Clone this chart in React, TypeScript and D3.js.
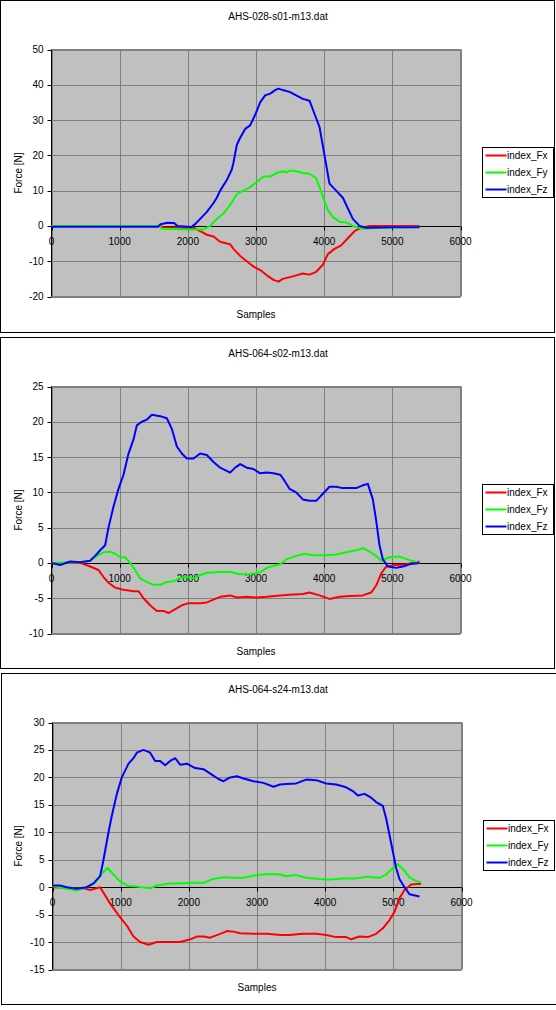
import { useRef, useEffect } from "react";
import * as d3 from "d3";

type Pt = [number, number];

const titles = ["AHS-028-s01-m13.dat", "AHS-064-s02-m13.dat", "AHS-064-s24-m13.dat"];
const seriesNames = ["index_Fx", "index_Fy", "index_Fz"];
const seriesColors = ["#ff0000", "#00ff00", "#0000ff"];
const xTicks = [0, 1000, 2000, 3000, 4000, 5000, 6000];
const yDomains: [number, number][] = [[-20, 50], [-10, 25], [-15, 30]];
const yTicks = [
  [-20, -10, 0, 10, 20, 30, 40, 50],
  [-10, -5, 0, 5, 10, 15, 20, 25],
  [-15, -10, -5, 0, 5, 10, 15, 20, 25, 30],
];

// AHS-028-s01
const s01Fx: Pt[] = [
  [0, 0], [1580, 0], [1650, -0.4], [1800, -0.5], [2100, -0.6], [2181, -1.5], [2279, -2.5],
  [2377, -3], [2474, -4.5], [2572, -5], [2620, -5.2], [2670, -6.5], [2768, -8.5], [2865, -10],
  [2963, -11.5], [3061, -12.5], [3159, -14], [3257, -15.3], [3330, -15.8], [3394, -15],
  [3541, -14.3], [3687, -13.5], [3785, -13.8], [3883, -13], [3981, -11], [4054, -8],
  [4152, -6.5], [4250, -5.5], [4347, -3.5], [4445, -1.5], [4543, -0.5], [4665, 0], [5400, 0],
];
const s01Fy: Pt[] = [
  [0, 0], [1580, 0], [1620, -0.8], [1800, -0.9], [2000, -1], [2230, -1], [2328, 0],
  [2425, 2], [2523, 3.5], [2621, 6], [2719, 9], [2816, 10], [2914, 11], [3012, 12.5],
  [3110, 14], [3208, 14], [3306, 15], [3394, 15.5], [3450, 15.2], [3492, 15.7], [3589, 15.5],
  [3687, 15], [3785, 14.8], [3883, 13.5], [3932, 11], [4005, 7], [4054, 4.5], [4127, 2.5],
  [4225, 1.2], [4323, 1], [4421, 0], [4567, -0.8], [4763, -0.6], [5252, -0.3], [5400, -0.3],
];
const s01Fz: Pt[] = [
  [0, -0.2], [1560, -0.2], [1600, 0.5], [1700, 0.9], [1800, 0.8], [1850, 0], [2050, -0.3],
  [2108, 0.5], [2181, 2], [2279, 4], [2377, 6.5], [2425, 8], [2474, 10], [2572, 13],
  [2645, 16], [2670, 18], [2719, 23], [2768, 25], [2841, 27.5], [2914, 28.5], [2988, 31.5],
  [3061, 35], [3134, 37], [3208, 37.5], [3281, 38.5], [3330, 38.9], [3394, 38.5],
  [3492, 38], [3589, 37], [3687, 36], [3785, 35.5], [3834, 33], [3932, 28], [4005, 20],
  [4078, 12], [4176, 10], [4274, 8], [4347, 5], [4421, 2], [4518, 0], [4616, -0.5],
  [5000, -0.4], [5400, -0.4],
];

// AHS-064-s02
const s02Fx: Pt[] = [
  [0, 0], [421, 0], [567, -0.5], [690, -1], [763, -2], [836, -2.8], [934, -3.5],
  [1056, -3.8], [1203, -4], [1276, -4], [1350, -5], [1447, -6], [1545, -6.8], [1643, -6.8],
  [1716, -7.1], [1790, -6.7], [1912, -6], [2010, -5.7], [2181, -5.7], [2279, -5.6],
  [2377, -5.2], [2474, -4.8], [2621, -4.6], [2719, -4.9], [2865, -4.8], [3012, -4.9],
  [3159, -4.8], [3355, -4.6], [3492, -4.5], [3687, -4.4], [3785, -4.2], [3932, -4.6],
  [4078, -5.1], [4225, -4.8], [4372, -4.7], [4567, -4.6], [4689, -4.2], [4763, -3.2],
  [4836, -1.5], [4910, -0.5], [5056, -0.3], [5203, -0.2], [5399, 0.2],
];
const s02Fy: Pt[] = [
  [0, 0], [421, 0.1], [567, 0.3], [665, 1], [763, 1.5], [860, 1.6], [934, 1.3], [1007, 0.8],
  [1081, 0.8], [1154, 0], [1227, -1], [1301, -2.2], [1398, -2.7], [1496, -3.1], [1594, -3.1],
  [1692, -2.7], [1790, -2.6], [1888, -2.1], [1985, -2], [2083, -2.2], [2181, -1.7],
  [2279, -1.4], [2474, -1.3], [2621, -1.3], [2768, -1.6], [2914, -1.6], [3061, -1.3],
  [3159, -0.7], [3257, -0.4], [3355, -0.2], [3443, 0.5], [3589, 1], [3712, 1.3], [3834, 1.1],
  [4029, 1.1], [4176, 1.2], [4323, 1.5], [4470, 1.8], [4567, 2.1], [4665, 1.6], [4763, 1],
  [4836, 0.3], [4959, 0.8], [5105, 0.9], [5252, 0.4], [5399, 0],
];
const s02Fz: Pt[] = [
  [0, 0], [127, -0.3], [274, 0.2], [421, 0.1], [567, 0.3], [640, 1], [714, 1.8], [787, 2.5],
  [836, 5], [910, 8], [983, 10.5], [1056, 12.5], [1130, 15.5], [1203, 17.5], [1252, 19.5],
  [1325, 20], [1398, 20.3], [1472, 21], [1594, 20.8], [1692, 20.5], [1765, 19], [1839, 16.5],
  [1912, 15.5], [1985, 14.8], [2083, 14.8], [2181, 15.5], [2279, 15.3], [2377, 14.3],
  [2474, 13.5], [2621, 12.8], [2694, 13.5], [2768, 14], [2865, 13.5], [2963, 13.3],
  [3061, 12.7], [3159, 12.8], [3257, 12.7], [3355, 12.5], [3394, 12], [3492, 10.5],
  [3589, 10], [3687, 9], [3785, 8.8], [3883, 8.8], [3981, 9.8], [4078, 10.8], [4176, 10.8],
  [4274, 10.6], [4372, 10.6], [4470, 10.6], [4567, 11], [4641, 11.2], [4714, 9], [4763, 6],
  [4812, 2.5], [4861, 0.5], [4934, -0.5], [5056, -0.7], [5154, -0.5], [5252, -0.2], [5399, 0],
];

// AHS-064-s24
const s24Fx: Pt[] = [
  [0, 0], [357, -0.2], [455, -0.2], [553, -0.5], [699, 0], [748, -1], [846, -3], [993, -5.5],
  [1090, -7], [1188, -9], [1286, -10], [1408, -10.5], [1531, -10], [1677, -10], [1873, -10],
  [2020, -9.5], [2117, -9], [2215, -9], [2313, -9.2], [2460, -8.5], [2558, -8], [2655, -8.1],
  [2753, -8.4], [2949, -8.5], [3144, -8.5], [3340, -8.7], [3477, -8.7], [3672, -8.5],
  [3868, -8.5], [4015, -8.7], [4161, -9.1], [4308, -9.1], [4381, -9.5], [4504, -9],
  [4626, -9.1], [4748, -8.5], [4846, -7.5], [4944, -6], [5017, -4.5], [5090, -2],
  [5164, -0.5], [5261, 0.5], [5408, 0.6],
];
const s24Fy: Pt[] = [
  [0, 0.2], [210, -0.3], [357, -0.6], [504, 0], [626, 0.8], [724, 2.5], [807, 3.5], [895, 2.3],
  [993, 1], [1115, 0.2], [1237, 0.1], [1433, -0.2], [1531, 0.3], [1677, 0.6], [1873, 0.7],
  [2068, 0.8], [2215, 0.8], [2362, 1.5], [2509, 1.8], [2655, 1.7], [2802, 1.7], [2998, 2.2],
  [3193, 2.4], [3340, 2.3], [3428, 2], [3574, 2.2], [3721, 1.7], [3917, 1.5], [4064, 1.4],
  [4259, 1.6], [4455, 1.6], [4601, 1.9], [4797, 1.7], [4895, 2.3], [4993, 3.5], [5066, 4.2],
  [5164, 3], [5237, 1.8], [5335, 1.1], [5408, 0.9],
];
const s24Fz: Pt[] = [
  [0, 0.3], [112, 0.3], [210, 0], [357, -0.3], [504, 0], [601, 0.7], [699, 2], [748, 5],
  [822, 10], [870, 13], [944, 17], [1017, 20], [1115, 22.5], [1188, 23.5], [1237, 24.5],
  [1335, 25], [1433, 24.5], [1506, 23], [1579, 23], [1653, 22.2], [1726, 23], [1800, 23.5],
  [1873, 22.3], [1971, 22.5], [2093, 21.7], [2215, 21.5], [2337, 20.5], [2435, 19.7],
  [2509, 19.3], [2606, 20], [2704, 20.2], [2802, 19.8], [2949, 19.3], [3095, 19],
  [3242, 18.3], [3340, 18.7], [3428, 18.8], [3574, 18.9], [3721, 19.6], [3868, 19.5],
  [4015, 18.9], [4161, 18.7], [4308, 18.2], [4406, 17.5], [4479, 16.7], [4577, 17],
  [4675, 16.3], [4748, 15.5], [4846, 14.8], [4895, 12.5], [4944, 9.5], [4993, 6.5],
  [5041, 3.5], [5090, 1.5], [5164, 0], [5237, -1.3], [5384, -1.7],
];

const panelSeries = [
  [s01Fx, s01Fy, s01Fz],
  [s02Fx, s02Fy, s02Fz],
  [s24Fx, s24Fy, s24Fz],
];

// layout of the three chart boxes
const frames = [
  { x: 0.5, y: 0.5, w: 554, h: 332, plot: { l: 51.5, r: 460.5, t: 49.5, b: 296.5 }, leg: { x: 482.5, y: 147.5 } },
  { x: 0.5, y: 337.5, w: 554, h: 331, plot: { l: 51.5, r: 460.5, t: 386.5, b: 633.5 }, leg: { x: 482.5, y: 484.5 } },
  { x: 1.5, y: 673.5, w: 560, h: 331, plot: { l: 52.5, r: 461.5, t: 722.5, b: 969.5 }, leg: { x: 483.5, y: 820.5 } },
];

export default function App() {
  const svgRef = useRef<SVGSVGElement>(null);

  useEffect(() => {
    const svg = d3.select(svgRef.current);
    svg.selectAll("*").remove();
    svg
      .attr("font-family", "'Liberation Sans', Arial, sans-serif")
      .attr("font-size", 10);

    frames.forEach((f, i) => {
      const g = svg.append("g");
      const p = f.plot;
      const x = d3.scaleLinear().domain([0, 6000]).range([p.l, p.r]);
      const y = d3.scaleLinear().domain(yDomains[i]).range([p.b, p.t]);

      g.append("rect")
        .attr("x", f.x).attr("y", f.y).attr("width", f.w).attr("height", f.h)
        .attr("fill", "#fff").attr("stroke", "#000");

      g.append("text")
        .attr("x", 278).attr("y", f.y + 19)
        .attr("text-anchor", "middle")
        .text(titles[i]);

      g.append("rect")
        .attr("x", p.l).attr("y", p.t).attr("width", p.r - p.l).attr("height", p.b - p.t)
        .attr("fill", "#c0c0c0").attr("stroke", "#808080");

      // grid
      g.selectAll(".gy").data(yTicks[i]).join("line")
        .attr("x1", p.l).attr("x2", p.r)
        .attr("y1", (d) => Math.round(y(d)) + 0.5).attr("y2", (d) => Math.round(y(d)) + 0.5)
        .attr("stroke", "#808080");
      g.selectAll(".gx").data(xTicks).join("line")
        .attr("x1", (d) => Math.round(x(d)) + 0.5).attr("x2", (d) => Math.round(x(d)) + 0.5)
        .attr("y1", p.t).attr("y2", p.b)
        .attr("stroke", "#808080");

      // y axis
      const y0 = Math.round(y(0)) + 0.5;
      g.append("line")
        .attr("x1", p.l).attr("x2", p.l).attr("y1", p.t).attr("y2", p.b)
        .attr("stroke", "#000");
      g.selectAll(".ty").data(yTicks[i]).join("line")
        .attr("x1", p.l - 4).attr("x2", p.l)
        .attr("y1", (d) => Math.round(y(d)) + 0.5).attr("y2", (d) => Math.round(y(d)) + 0.5)
        .attr("stroke", "#000");
      g.selectAll(".ly").data(yTicks[i]).join("text")
        .attr("x", p.l - 8).attr("y", (d) => y(d) + 3.5)
        .attr("text-anchor", "end")
        .text((d) => d);

      // x axis at zero
      g.append("line")
        .attr("x1", p.l).attr("x2", p.r).attr("y1", y0).attr("y2", y0)
        .attr("stroke", "#000");
      g.selectAll(".tx").data(xTicks).join("line")
        .attr("x1", (d) => Math.round(x(d)) + 0.5).attr("x2", (d) => Math.round(x(d)) + 0.5)
        .attr("y1", y0).attr("y2", y0 + 4)
        .attr("stroke", "#000");
      g.selectAll(".lx").data(xTicks).join("text")
        .attr("x", (d) => x(d)).attr("y", y0 + 18)
        .attr("text-anchor", "middle")
        .text((d) => d);

      // axis titles
      g.append("text")
        .attr("transform", `translate(22,${(p.t + p.b) / 2}) rotate(-90)`)
        .attr("text-anchor", "middle")
        .text("Force [N]");
      g.append("text")
        .attr("x", (p.l + p.r) / 2).attr("y", p.b + 21)
        .attr("text-anchor", "middle")
        .text("Samples");

      const line = d3.line<Pt>().x((d) => x(d[0])).y((d) => y(d[1]));
      panelSeries[i].forEach((s, k) => {
        g.append("path")
          .attr("d", line(s))
          .attr("fill", "none")
          .attr("stroke", seriesColors[k])
          .attr("stroke-width", 2)
          .attr("stroke-linejoin", "round");
      });

      // legend
      const lg = g.append("g").attr("transform", `translate(${f.leg.x},${f.leg.y})`);
      lg.append("rect")
        .attr("width", 71).attr("height", 50)
        .attr("fill", "#fff").attr("stroke", "#000");
      seriesNames.forEach((n, k) => {
        const ry = 8 + k * 17;
        lg.append("line")
          .attr("x1", 3).attr("x2", 24).attr("y1", ry).attr("y2", ry)
          .attr("stroke", seriesColors[k]).attr("stroke-width", 2);
        lg.append("text")
          .attr("x", 24.5).attr("y", ry + 3.5)
          .text(n);
      });
    });
  }, []);

  return (
    <svg
      ref={svgRef}
      width={556}
      height={1010}
      style={{ position: "absolute", left: 0, top: 0, background: "#fff" }}
    />
  );
}
